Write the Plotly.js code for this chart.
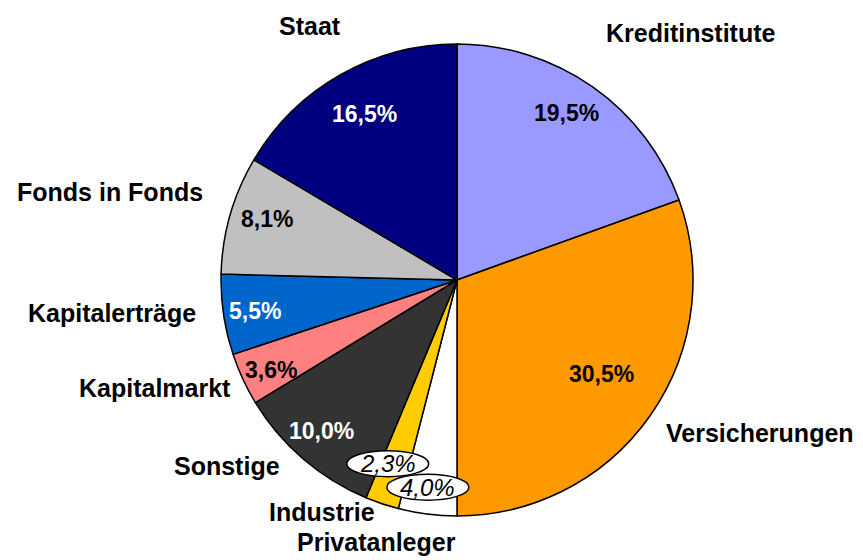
<!DOCTYPE html>
<html>
<head>
<meta charset="utf-8">
<script src="https://cdn.plot.ly/plotly-3.0.1.min.js"></script>
<style>
  html, body { margin: 0; padding: 0; background: #ffffff; }
  #chart { width: 863px; height: 560px; }
</style>
</head>
<body>
<div id="chart"></div>
<script>
// --- data ---
const categories = ["Kreditinstitute", "Versicherungen", "Privatanleger", "Industrie", "Sonstige",
                    "Kapitalmarkt", "Kapitalerträge", "Fonds in Fonds", "Staat"];
const shares = [19.5, 30.5, 4.0, 2.3, 10.0, 3.6, 5.5, 8.1, 16.5];
const sliceColors = ["#9999FF", "#FF9900", "#FFFFFF", "#FFCC00", "#333333",
                     "#FF8080", "#0066CC", "#C0C0C0", "#000080"];
const pctLabels = shares.map(v => v.toFixed(1).replace(".", ",") + "%");

// --- label layout (pixels) ---
const W = 863, H = 560;
const CX = 457, CY = 280, R = 236;
const darkSlices = ["Sonstige", "Kapitalerträge", "Staat"];
const ovalSlices = ["Privatanleger", "Industrie"];
const pctRadius = [0.84, 0.72, 0.885, 0.83, 0.86, 0.87, 0.865, 0.84, 0.81];
const pctShift = [[-4, -5], [5, -4], [-3, 0], [-7, -2], [-3, -3], [0, 4], [0, 1], [1, -6], [2, 0]];
const nameShift = [[98, -54], [110, 17], [-51, 28], [-60, 8], [-76, 7],
                   [-88, 9], [-112, -2], [-120, -23], [-30, -49]];

const px = x => x / W;
const py = y => 1 - y / H;

// mid angle of each slice, clockwise from 12 o'clock
const total = shares.reduce((a, b) => a + b, 0);
let acc = 0;
const midDirs = shares.map(v => {
    const a = (acc + v / 2) / total * 2 * Math.PI;
    acc += v;
    return [Math.sin(a), -Math.cos(a)];
});

const annotations = [];
const shapes = [];

categories.forEach((name, i) => {
    const [dx, dy] = midDirs[i];
    // category name outside the pie
    const ex = CX + dx * R + nameShift[i][0];
    const ey = CY + dy * R + nameShift[i][1];
    annotations.push({
        x: px(ex), y: py(ey), xref: "paper", yref: "paper",
        text: name, showarrow: false, xanchor: "center", yanchor: "middle",
        font: { family: "Liberation Sans, Arial, sans-serif", size: 25, color: "#000000", weight: "bold" }
    });

    // percentage inside
    const tx = CX + dx * R * pctRadius[i] + pctShift[i][0];
    const ty = CY + dy * R * pctRadius[i] + pctShift[i][1];
    const oval = ovalSlices.includes(name);
    if (oval) {
        shapes.push({
            type: "circle", xref: "paper", yref: "paper", layer: "above",
            x0: px(tx - 41), x1: px(tx + 41), y0: py(ty + 13), y1: py(ty - 13),
            fillcolor: "#FFFFFF", line: { color: "#000000", width: 1.5 }
        });
    }
    annotations.push({
        x: px(tx), y: py(ty), xref: "paper", yref: "paper",
        text: pctLabels[i], showarrow: false, xanchor: "center", yanchor: "middle",
        font: {
            family: "Liberation Sans, Arial, sans-serif", size: oval ? 24 : 23,
            color: darkSlices.includes(name) ? "#FFFFFF" : "#000000",
            weight: oval ? "normal" : "bold",
            style: oval ? "italic" : "normal"
        }
    });
});

const trace = {
    type: "pie",
    labels: categories,
    values: shares,
    sort: false,
    direction: "clockwise",
    rotation: 0,
    textinfo: "none",
    hoverinfo: "label+percent",
    marker: { colors: sliceColors, line: { color: "#000000", width: 1.5 } },
    domain: { x: [px(CX - R), px(CX + R)], y: [py(CY + R), py(CY - R)] },
    showlegend: false
};

const layout = {
    width: W,
    height: H,
    margin: { t: 0, b: 0, l: 0, r: 0 },
    paper_bgcolor: "#FFFFFF",
    showlegend: false,
    annotations: annotations,
    shapes: shapes
};

Plotly.newPlot("chart", [trace], layout, { displayModeBar: false, staticPlot: true });
</script>
</body>
</html>
